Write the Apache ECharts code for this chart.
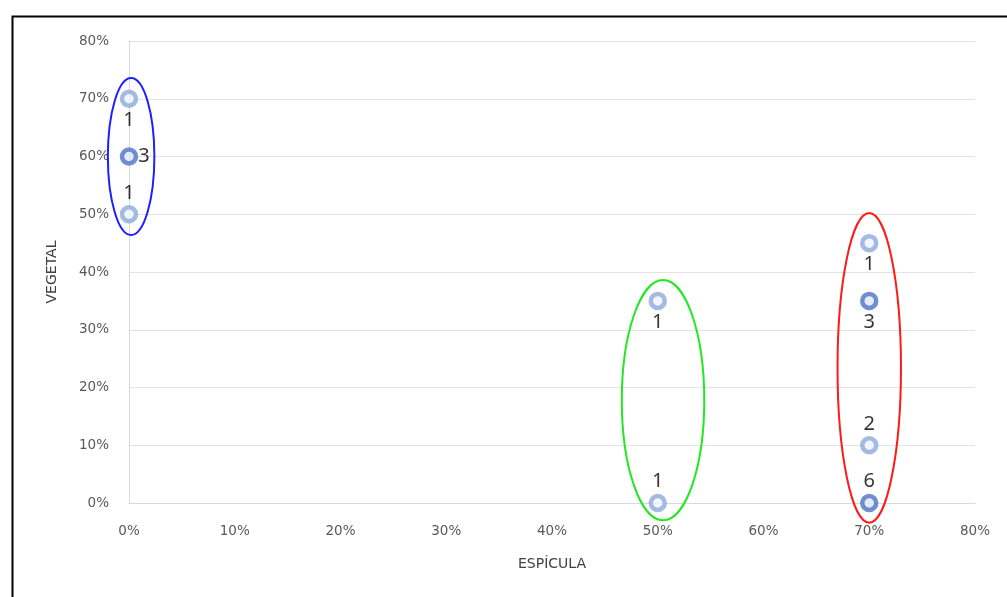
<!DOCTYPE html>
<html><head><meta charset="utf-8">
<script src="https://cdn.jsdelivr.net/npm/echarts@6/dist/echarts.min.js"></script>
<style>html,body{margin:0;padding:0;background:#fff}#c{width:1007px;height:597px}</style>
</head><body><div id="c"></div>
<script>
// Data
var espicula = [0.00, 0.00, 0.00, 0.50, 0.50, 0.70, 0.70, 0.70, 0.70];
var vegetal  = [0.70, 0.60, 0.50, 0.35, 0.00, 0.45, 0.35, 0.10, 0.00];
var counts   = [1, 3, 1, 1, 1, 1, 3, 2, 6];
var labelPos = ['bottom', 'right', 'top', 'bottom', 'top', 'bottom', 'bottom', 'top', 'top'];
var xTicks = [0, 0.1, 0.2, 0.3, 0.4, 0.5, 0.6, 0.7, 0.8];
var yTicks = [0, 0.1, 0.2, 0.3, 0.4, 0.5, 0.6, 0.7, 0.8];
// groups circled: centre x, centre y, radius x, radius y (data units)
var groupCx = [0.002, 0.505, 0.700];
var groupCy = [0.600, 0.178, 0.234];
var groupRx = [0.022, 0.039, 0.030];
var groupRy = [0.136, 0.208, 0.268];
var groupColor = ['#1f1fff', '#22e822', '#ff1a1a'];

var pts = espicula.map(function (x, i) {
  var dark = counts[i] >= 3;
  return {
    value: [x, vegetal[i], counts[i]],
    itemStyle: {
      color: dark ? '#dfe7f7' : '#eef3fb',
      borderColor: dark ? '#4f74c6' : '#8eaadc',
      borderWidth: 4.5
    },
    label: { position: labelPos[i], distance: labelPos[i] === 'right' ? 0 : 2 }
  };
});

var ell = groupCx.map(function (c, i) { return [c, groupCy[i], groupRx[i], groupRy[i], i]; });

var chart = echarts.init(document.getElementById('c'));
var pct = function (v) { return Math.round(v * 100) + '%'; };
var axFont = 'DejaVu Sans';
chart.setOption({
  animation: false,
  grid: { left: 129, right: 32, top: 41, bottom: 94 },
  graphic: [{ type: 'rect', left: 10, top: 14, shape: { width: 1020, height: 620 },
    style: { fill: 'none', stroke: '#000', lineWidth: 2 }, silent: true }],
  xAxis: {
    type: 'value', min: 0, max: 0.8, interval: 0.1,
    name: 'ESPÍCULA', nameLocation: 'middle', nameGap: 54,
    nameTextStyle: { color: '#404040', fontSize: 14, fontFamily: axFont },
    axisLine: { show: true, lineStyle: { color: '#d9d9d9' } },
    axisTick: { show: false },
    splitLine: { show: false },
    axisLabel: { formatter: pct, color: '#595959', fontSize: 13.5, fontFamily: axFont, margin: 21 }
  },
  yAxis: {
    type: 'value', min: 0, max: 0.8, interval: 0.1,
    name: 'VEGETAL', nameLocation: 'middle', nameGap: 70, nameRotate: 90,
    nameTextStyle: { color: '#404040', fontSize: 14, fontFamily: axFont },
    axisLine: { show: true, lineStyle: { color: '#d9d9d9' } },
    axisTick: { show: false },
    splitLine: { show: true, lineStyle: { color: '#e3e3e3' } },
    axisLabel: { formatter: pct, color: '#595959', fontSize: 13.5, fontFamily: axFont, margin: 20 }
  },
  series: [{
    type: 'scatter', symbol: 'circle', symbolSize: 14, data: pts, z: 3,
    label: { show: true, formatter: function (p) { return p.value[2]; },
      color: '#000', fontSize: 20, fontFamily: 'Noto Sans' }
  }, {
    type: 'custom', data: ell, z: 4, silent: true,
    renderItem: function (params, api) {
      var c = api.coord([api.value(0), api.value(1)]);
      var s = api.size([api.value(2), api.value(3)]);
      return { type: 'ellipse', shape: { cx: c[0], cy: c[1], rx: s[0], ry: s[1] },
        style: { fill: 'none', stroke: groupColor[api.value(4)], lineWidth: 2 } };
    }
  }]
});
</script></body></html>
